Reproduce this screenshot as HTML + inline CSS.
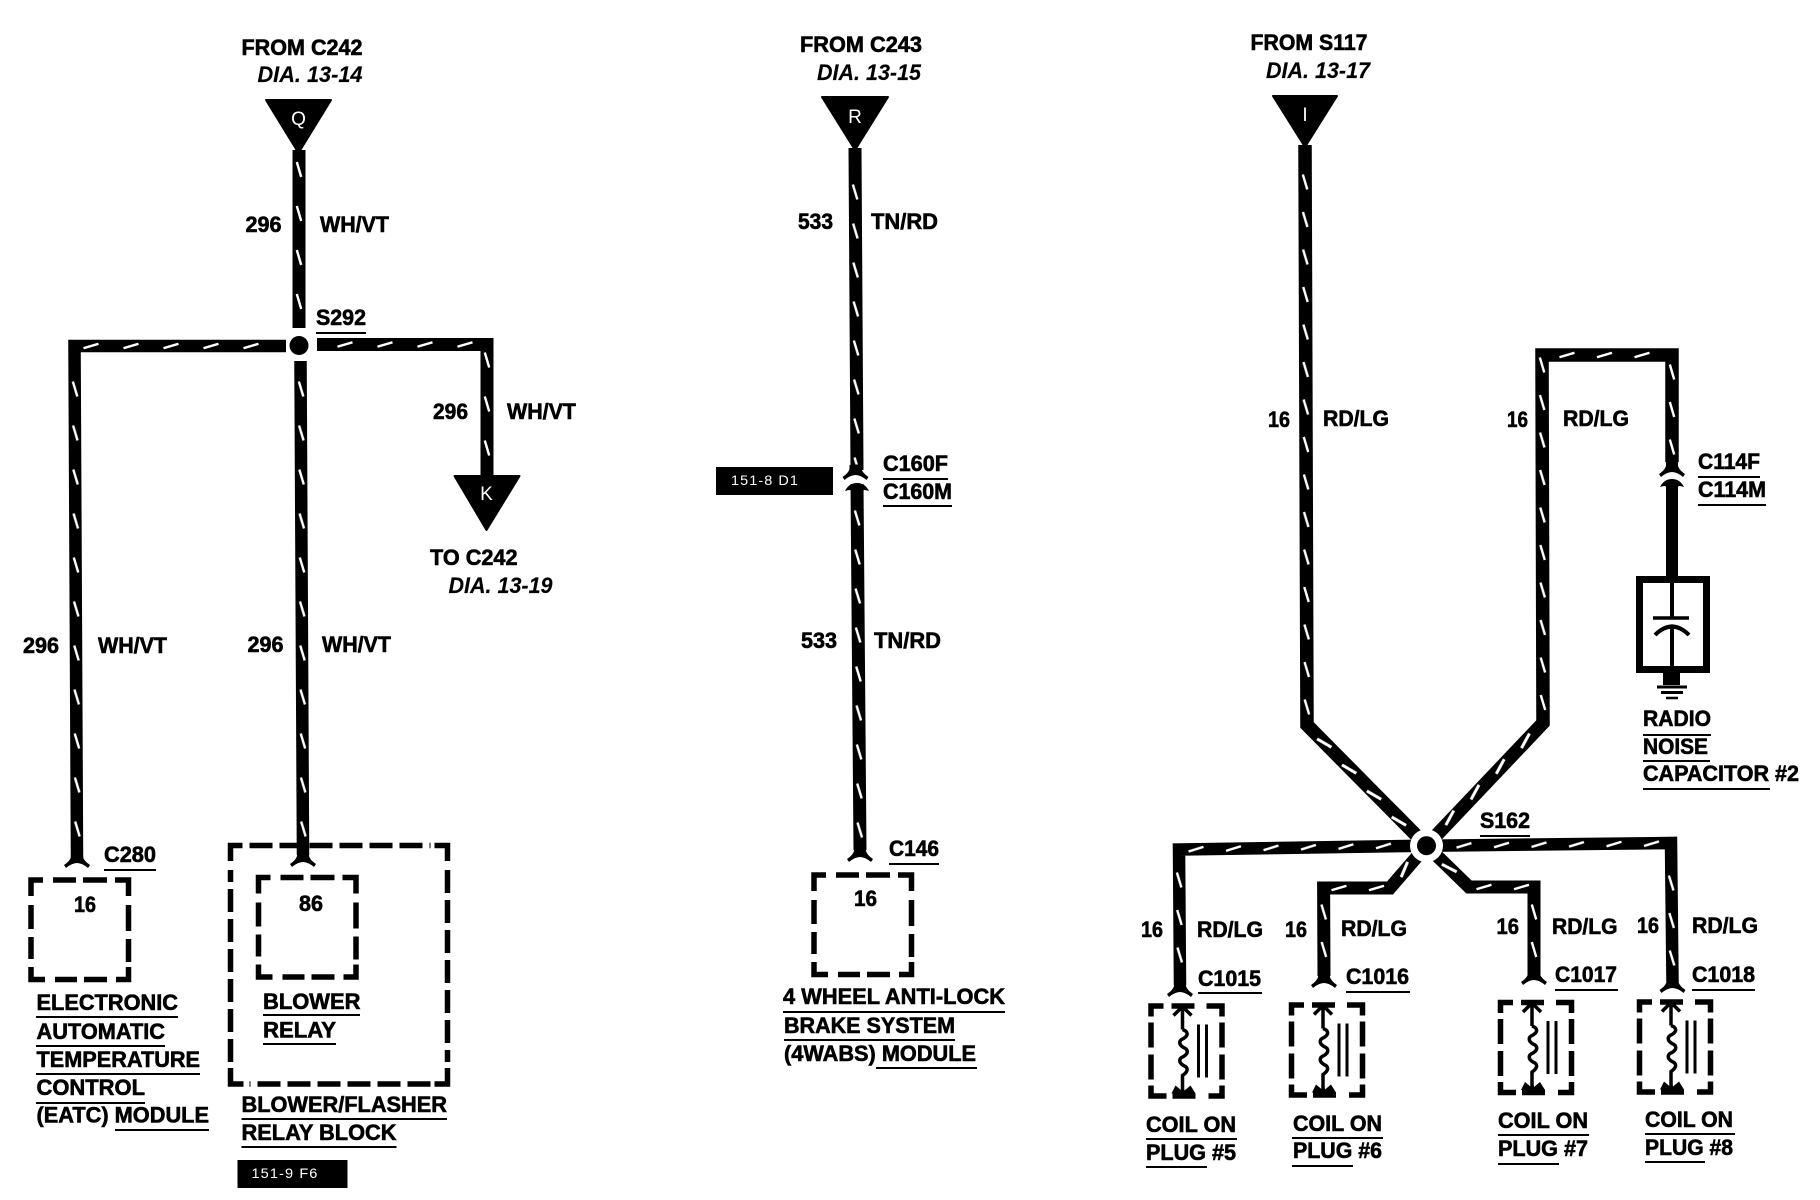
<!DOCTYPE html>
<html><head><meta charset="utf-8"><title>Wiring diagram</title>
<style>
html,body{margin:0;padding:0;background:#fff}
svg{display:block}
text{font-family:"Liberation Sans",sans-serif;fill:#000}
.b{font-weight:bold;font-size:22px;stroke:#000;stroke-width:.6}
.i{font-weight:bold;font-style:italic;font-size:22px;stroke:#000;stroke-width:.15}
.w{font-size:19px;fill:#fff}
.s{font-size:13.5px;fill:#fff;letter-spacing:1px}
.u{stroke:#000;stroke-width:2;fill:none}
.k{stroke:#000;fill:none;stroke-linejoin:miter}
</style></head><body>
<svg width="1820" height="1200" viewBox="0 0 1820 1200" xmlns="http://www.w3.org/2000/svg">
<defs>
<pattern id="a" patternUnits="userSpaceOnUse" x="-8" y="0" width="16" height="44"><path d="M-2.2 10L2.2 25" transform="translate(8,0)" stroke="#fff" stroke-width="2.4" fill="none"/></pattern>
<pattern id="p" patternUnits="userSpaceOnUse" x="-8" y="0" width="16" height="40"><path d="M-2.2 10L2.2 25" transform="translate(8,0)" stroke="#fff" stroke-width="2.4" fill="none"/></pattern>
<pattern id="m" patternUnits="userSpaceOnUse" x="-8" y="0" width="16" height="39"><path d="M-2.2 10L2.2 25" transform="translate(8,0)" stroke="#fff" stroke-width="2.4" fill="none"/></pattern>
<pattern id="r" patternUnits="userSpaceOnUse" x="-8" y="0" width="16" height="37.500"><path d="M-2.2 10L2.2 25" transform="translate(8,0)" stroke="#fff" stroke-width="2.4" fill="none"/></pattern>
<pattern id="d" patternUnits="userSpaceOnUse" x="-8" y="0" width="16" height="36"><path d="M-2.3 17L2.300 33" transform="translate(8,0)" stroke="#fff" stroke-width="3" fill="none"/></pattern>
<path id="fk" d="M-6 -14H6V-10Q7 -6 13 -2L11 1Q5 -4 0 -4Q-5 -4 -11 1L-13 -2Q-7 -6 -6 -10Z"/>
<path id="dm" d="M-12 5Q-8 -3 0 -3Q8 -3 12 5Q6 3 6 5H-6Q-6 3 -12 5Z"/>
<path id="bx" fill="none" stroke="#000" stroke-width="5.5" d="M0 16V0H12M22 0H45M52 0H76M84 0H97.5V16M97.5 25V51M97.5 59V82M97.5 87V99.5H85M76 99.5H53M46 99.5H24M14 99.5H0V87M0 79V57M0 49V25"/>
<g id="cl" fill="none" stroke="#000">
<path stroke-width="5.5" d="M2.5 13V2.5H15M58 2.5H73.5V13M2.5 19V44M2.5 51V76M2.5 82V92.5H18M60 92.5H73.500V82M73.5 19V44M73.5 51V76M23 2.5H46M24 92.5H47"/>
<path stroke-width="3.5" d="M34 2V26M25 12L34 3L43 12M34 26c6 2 6 6 1 9c-5 2-5 6 0 9c5 2 5 6 0 9c-5 2-5 6 0 9c5 2 5 6-1 10V92"/>
<path stroke-width="3" d="M50 21V74M58 21V74"/>
<path fill="#000" stroke="none" d="M23 90L27 82L33 87L34 78L36 87L42 82L47 90Z"/>
</g>
</defs>

<!-- black wire bodies -->
<g class="k" stroke-width="13">
<path d="M299 150V328"/>
<path d="M300.500 361L303 855" stroke-width="12.500"/>
<path d="M286 346H74.500L77 858" stroke-width="12.500"/>
<path d="M317 344.5H487V476"/>
<path d="M855 148L857 470"/>
<path d="M857 484L860 850"/>
<path d="M1305 145L1307 725L1426.500 845.700" stroke-width="13.500"/>
<path d="M1426.500 845.700L1543 723L1542 355H1672V462" stroke-width="13.500"/>
<path d="M1426.500 845.700L1179 849.500L1180 985" stroke-width="12.500"/>
<path d="M1426.500 845.700L1671 843L1672.500 982" stroke-width="12.500"/>
<path d="M1426.500 845.700L1390 888H1323.600L1324 976" stroke-width="13"/>
<path d="M1426.500 845.700L1469 887H1534V976" stroke-width="13"/>
<path d="M1672 485V580" stroke-width="12"/>
</g>

<!-- white tracer dashes -->
<g>
<rect fill="url(#a)" x="-8" width="16" height="176" transform="translate(299,152)"/>
<rect fill="url(#a)" x="-8" width="16" height="484" transform="translate(301,371.500) rotate(-.3)"/>
<rect fill="url(#p)" x="-8" width="16" height="205" transform="translate(73.500,346) rotate(-90)"/>
<rect fill="url(#a)" x="-8" width="16" height="486" transform="translate(75,371.500) rotate(-.3)"/>
<rect fill="url(#p)" x="-8" width="16" height="150" transform="translate(327.500,344.500) rotate(-90)"/>
<rect fill="url(#a)" x="-8" width="16" height="132" transform="translate(487,342.500)"/>
<rect fill="url(#m)" x="-8" width="16" height="290" transform="translate(855,174.500) rotate(-.36)"/>
<rect fill="url(#m)" x="-8" width="16" height="345" transform="translate(857,500.500) rotate(-.48)"/>
<rect fill="url(#r)" x="-8" width="16" height="560" transform="translate(1305,164.500) rotate(-.2)"/>
<rect fill="url(#r)" x="-8" width="16" height="375" transform="translate(1542,347.500) rotate(-.16)"/>
<rect fill="url(#r)" x="-8" width="16" height="112" transform="translate(1549.500,355) rotate(-90)"/>
<rect fill="url(#r)" x="-8" width="16" height="107" transform="translate(1672,354.500)"/>
<rect fill="url(#r)" x="-8" width="16" height="220" transform="translate(1178.500,849.500) rotate(-91)"/>
<rect fill="url(#r)" x="-8" width="16" height="122" transform="translate(1179,862.500) rotate(-.44)"/>
<rect fill="url(#r)" x="-8" width="16" height="218" transform="translate(1446.500,845.500) rotate(-90.500)"/>
<rect fill="url(#r)" x="-8" width="16" height="115" transform="translate(1671,865.500) rotate(-.65)"/>
<rect fill="url(#r)" x="-8" width="16" height="68" transform="translate(1321.500,888) rotate(-90)"/>
<rect fill="url(#r)" x="-8" width="16" height="80" transform="translate(1323.600,894.500) rotate(-.3)"/>
<rect fill="url(#r)" x="-8" width="16" height="66" transform="translate(1466.500,887) rotate(-90)"/>
<rect fill="url(#r)" x="-8" width="16" height="80" transform="translate(1534,894.500)"/>
<rect fill="url(#d)" x="-8" width="16" height="152" transform="translate(1307,725) rotate(-43.700)"/>
<rect fill="url(#d)" x="-8" width="16" height="142" transform="translate(1543,723) rotate(44.500)"/>
<rect fill="url(#d)" x="-8" width="16" height="45" transform="translate(1420,850) rotate(38.700)"/>
<rect fill="url(#d)" x="-8" width="16" height="42" transform="translate(1431,851) rotate(-46.900)"/>
</g>

<!-- triangles -->
<g fill="#000" stroke="#000" stroke-width="2" stroke-linejoin="round">
<path d="M266 100H331L298.500 153Z"/>
<path d="M454.500 476H519.500L486.500 530Z"/>
<path d="M822 97H888L855 150Z"/>
<path d="M1273 96H1337L1305 147Z"/>
</g>
<text class="w" x="298.500" y="125" text-anchor="middle">Q</text>
<text class="w" x="486.500" y="500" text-anchor="middle">K</text>
<text class="w" x="855" y="123" text-anchor="middle">R</text>
<text class="w" x="1305" y="121" text-anchor="middle">I</text>

<!-- splices -->
<circle cx="299" cy="345.500" r="9.500" fill="#000"/>
<circle cx="1426.500" cy="845.700" r="16.500" fill="#fff"/>
<circle cx="1426.500" cy="845.700" r="9.500" fill="#000"/>

<!-- connector forks -->
<g fill="#000">
<use href="#fk" x="77" y="867"/>
<use href="#fk" x="303" y="866"/>
<use href="#fk" x="860" y="861"/>
<use href="#fk" x="1180" y="996"/>
<use href="#fk" x="1324" y="987"/>
<use href="#fk" x="1534" y="984"/>
<use href="#fk" x="1672.500" y="992"/>
<use href="#fk" x="855.500" y="479"/>
<use href="#dm" x="857" y="486"/>
<use href="#fk" x="1672" y="476"/>
<use href="#dm" x="1672" y="482"/>
</g>

<!-- dashed boxes -->
<use href="#bx" x="31" y="880"/>
<use href="#bx" x="258.500" y="877.500"/>
<use href="#bx" x="814" y="875"/>
<path fill="none" stroke="#000" stroke-width="5.5" d="M230.500 861V845.500H242.500M434.500 845.500H447.500V861M447.500 1068V1084H434.500M243.500 1084H230.500V1068"/>
<path fill="none" stroke="#000" stroke-width="5.5" stroke-dasharray="23 7" d="M249.500 845.500H430.500M447.500 870V1062M430.500 1084H249.500M230.500 1062V870"/>
<use href="#cl" x="1148.500" y="1003.500"/>
<use href="#cl" x="1289" y="1002.500"/>
<use href="#cl" x="1498" y="1000"/>
<use href="#cl" x="1637" y="999.500"/>

<!-- capacitor -->
<rect x="1639.500" y="579.500" width="67" height="90" fill="#fff" stroke="#000" stroke-width="7"/>
<g fill="none" stroke="#000">
<path stroke-width="4" d="M1672 580V618M1672 626V670"/>
<path stroke-width="3.500" d="M1653 618H1689"/>
<path stroke-width="4" d="M1655 635Q1672 618 1689 635"/>
<path stroke-width="3" d="M1657 687H1687M1661 692.500H1683"/>
<path stroke-width="2.500" d="M1666 698H1678"/>
</g>
<rect x="1663" y="673" width="17" height="12" fill="#000"/>

<!-- black reference tags -->
<rect x="237.500" y="1160" width="110" height="28" fill="#000"/>
<text class="s" x="251.500" y="1178" textLength="67" lengthAdjust="spacingAndGlyphs">151-9 F6</text>
<rect x="716" y="467" width="117" height="28" fill="#000"/>
<text class="s" x="731" y="485" textLength="68" lengthAdjust="spacingAndGlyphs">151-8 D1</text>

<!-- labels: left -->
<text class="b" x="241.500" y="55" textLength="121" lengthAdjust="spacingAndGlyphs">FROM C242</text>
<text class="i" x="257.500" y="82" textLength="105" lengthAdjust="spacingAndGlyphs">DIA. 13-14</text>
<text class="b" x="245.500" y="232" textLength="36" lengthAdjust="spacingAndGlyphs">296</text>
<text class="b" x="320" y="232" textLength="69" lengthAdjust="spacingAndGlyphs">WH/VT</text>
<text class="b" x="316" y="325" textLength="50" lengthAdjust="spacingAndGlyphs">S292</text>
<text class="b" x="433" y="419" textLength="35" lengthAdjust="spacingAndGlyphs">296</text>
<text class="b" x="507" y="419" textLength="69" lengthAdjust="spacingAndGlyphs">WH/VT</text>
<text class="b" x="430" y="565" textLength="87.500" lengthAdjust="spacingAndGlyphs">TO C242</text>
<text class="i" x="448.500" y="593" textLength="104" lengthAdjust="spacingAndGlyphs">DIA. 13-19</text>
<text class="b" x="23" y="653" textLength="36" lengthAdjust="spacingAndGlyphs">296</text>
<text class="b" x="98" y="653" textLength="69" lengthAdjust="spacingAndGlyphs">WH/VT</text>
<text class="b" x="247.500" y="652" textLength="36" lengthAdjust="spacingAndGlyphs">296</text>
<text class="b" x="322" y="652" textLength="69" lengthAdjust="spacingAndGlyphs">WH/VT</text>
<text class="b" x="104" y="862" textLength="52" lengthAdjust="spacingAndGlyphs">C280</text>
<text class="b" x="74" y="912" textLength="22" lengthAdjust="spacingAndGlyphs">16</text>
<text class="b" x="299" y="911" textLength="24" lengthAdjust="spacingAndGlyphs">86</text>
<text class="b" x="36.500" y="1010" textLength="141.500" lengthAdjust="spacingAndGlyphs">ELECTRONIC</text>
<text class="b" x="36.500" y="1039" textLength="128.500" lengthAdjust="spacingAndGlyphs">AUTOMATIC</text>
<text class="b" x="36.500" y="1067" textLength="163.500" lengthAdjust="spacingAndGlyphs">TEMPERATURE</text>
<text class="b" x="36.500" y="1095" textLength="108.500" lengthAdjust="spacingAndGlyphs">CONTROL</text>
<text class="b" x="36.500" y="1122.500" textLength="172.500" lengthAdjust="spacingAndGlyphs">(EATC) MODULE</text>
<text class="b" x="263" y="1009" textLength="97.500" lengthAdjust="spacingAndGlyphs">BLOWER</text>
<text class="b" x="263" y="1037.500" textLength="73" lengthAdjust="spacingAndGlyphs">RELAY</text>
<text class="b" x="241.500" y="1112" textLength="205.500" lengthAdjust="spacingAndGlyphs">BLOWER/FLASHER</text>
<text class="b" x="241.500" y="1140" textLength="155" lengthAdjust="spacingAndGlyphs">RELAY BLOCK</text>

<!-- labels: middle -->
<text class="b" x="800" y="52" textLength="122" lengthAdjust="spacingAndGlyphs">FROM C243</text>
<text class="i" x="817" y="80" textLength="104" lengthAdjust="spacingAndGlyphs">DIA. 13-15</text>
<text class="b" x="798" y="229" textLength="35" lengthAdjust="spacingAndGlyphs">533</text>
<text class="b" x="871" y="229" textLength="67" lengthAdjust="spacingAndGlyphs">TN/RD</text>
<text class="b" x="883" y="471" textLength="65" lengthAdjust="spacingAndGlyphs">C160F</text>
<text class="b" x="883" y="499" textLength="69" lengthAdjust="spacingAndGlyphs">C160M</text>
<text class="b" x="801" y="648" textLength="36" lengthAdjust="spacingAndGlyphs">533</text>
<text class="b" x="874" y="648" textLength="67" lengthAdjust="spacingAndGlyphs">TN/RD</text>
<text class="b" x="889" y="856" textLength="50" lengthAdjust="spacingAndGlyphs">C146</text>
<text class="b" x="854" y="906" textLength="23" lengthAdjust="spacingAndGlyphs">16</text>
<text class="b" x="783" y="1004" textLength="222" lengthAdjust="spacingAndGlyphs">4 WHEEL ANTI-LOCK</text>
<text class="b" x="784" y="1033" textLength="171" lengthAdjust="spacingAndGlyphs">BRAKE SYSTEM</text>
<text class="b" x="784" y="1061" textLength="192" lengthAdjust="spacingAndGlyphs">(4WABS) MODULE</text>

<!-- labels: right -->
<text class="b" x="1250.500" y="50" textLength="117" lengthAdjust="spacingAndGlyphs">FROM S117</text>
<text class="i" x="1266" y="78" textLength="104" lengthAdjust="spacingAndGlyphs">DIA. 13-17</text>
<text class="b" x="1268" y="427" textLength="22" lengthAdjust="spacingAndGlyphs">16</text>
<text class="b" x="1323" y="426" textLength="66" lengthAdjust="spacingAndGlyphs">RD/LG</text>
<text class="b" x="1507" y="427" textLength="21" lengthAdjust="spacingAndGlyphs">16</text>
<text class="b" x="1563" y="426" textLength="66" lengthAdjust="spacingAndGlyphs">RD/LG</text>
<text class="b" x="1698" y="469" textLength="62" lengthAdjust="spacingAndGlyphs">C114F</text>
<text class="b" x="1698" y="497" textLength="68" lengthAdjust="spacingAndGlyphs">C114M</text>
<text class="b" x="1643" y="726" textLength="68" lengthAdjust="spacingAndGlyphs">RADIO</text>
<text class="b" x="1643" y="754" textLength="65" lengthAdjust="spacingAndGlyphs">NOISE</text>
<text class="b" x="1643" y="781" textLength="156" lengthAdjust="spacingAndGlyphs">CAPACITOR #2</text>
<text class="b" x="1480" y="828" textLength="50" lengthAdjust="spacingAndGlyphs">S162</text>
<text class="b" x="1141" y="937" textLength="22" lengthAdjust="spacingAndGlyphs">16</text>
<text class="b" x="1197" y="937" textLength="66" lengthAdjust="spacingAndGlyphs">RD/LG</text>
<text class="b" x="1285" y="937" textLength="22" lengthAdjust="spacingAndGlyphs">16</text>
<text class="b" x="1341" y="936" textLength="66" lengthAdjust="spacingAndGlyphs">RD/LG</text>
<text class="b" x="1496.500" y="934" textLength="22.500" lengthAdjust="spacingAndGlyphs">16</text>
<text class="b" x="1552" y="934" textLength="65.500" lengthAdjust="spacingAndGlyphs">RD/LG</text>
<text class="b" x="1637" y="933" textLength="22" lengthAdjust="spacingAndGlyphs">16</text>
<text class="b" x="1692" y="933" textLength="66" lengthAdjust="spacingAndGlyphs">RD/LG</text>
<text class="b" x="1198" y="986" textLength="63" lengthAdjust="spacingAndGlyphs">C1015</text>
<text class="b" x="1346" y="984" textLength="63" lengthAdjust="spacingAndGlyphs">C1016</text>
<text class="b" x="1555" y="982" textLength="62" lengthAdjust="spacingAndGlyphs">C1017</text>
<text class="b" x="1692" y="982" textLength="63" lengthAdjust="spacingAndGlyphs">C1018</text>
<text class="b" x="1146" y="1132" textLength="90" lengthAdjust="spacingAndGlyphs">COIL ON</text>
<text class="b" x="1146" y="1160" textLength="90" lengthAdjust="spacingAndGlyphs">PLUG #5</text>
<text class="b" x="1293" y="1131" textLength="89" lengthAdjust="spacingAndGlyphs">COIL ON</text>
<text class="b" x="1293" y="1158" textLength="89" lengthAdjust="spacingAndGlyphs">PLUG #6</text>
<text class="b" x="1498" y="1128" textLength="90" lengthAdjust="spacingAndGlyphs">COIL ON</text>
<text class="b" x="1498" y="1156" textLength="90" lengthAdjust="spacingAndGlyphs">PLUG #7</text>
<text class="b" x="1645" y="1127" textLength="88" lengthAdjust="spacingAndGlyphs">COIL ON</text>
<text class="b" x="1645" y="1155" textLength="88" lengthAdjust="spacingAndGlyphs">PLUG #8</text>

<!-- underlines -->
<path class="u" d="M316 333H366M104 870H156M36 1017H178M36 1046H165M36 1074H200M36 1103H145M115 1130H209M263 1015H360M263 1044H336M241.500 1119H447M241.500 1147H396.500
M883 479H948M883 506H952M889 864H939M783 1012H1005M784 1040H955M876 1068H977
M1698 477H1760M1698 505H1766M1643 735H1711M1643 761H1710M1643 789H1770M1480 836H1530
M1198 993H1262M1346 992H1410M1555 990H1618M1692 990H1755
M1146 1139H1237M1146 1167H1207M1292 1138H1383M1292 1166H1353M1498 1135H1589M1498 1164H1559M1645 1134H1735M1645 1162H1705"/>
</svg>
</body></html>
